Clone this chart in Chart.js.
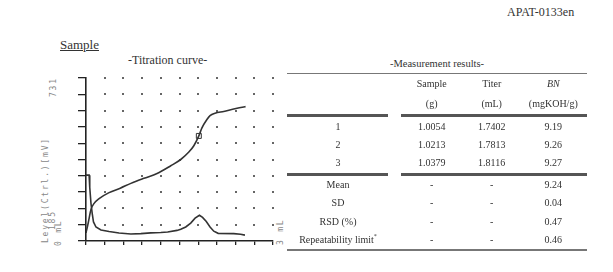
<!DOCTYPE html>
<html><head><meta charset="utf-8">
<script src="https://cdn.jsdelivr.net/npm/chart.js@4.4.0/dist/chart.umd.min.js"></script>
<style>
html,body{margin:0;padding:0;background:#fff;}
body{width:613px;height:272px;position:relative;overflow:hidden;font-family:"Liberation Serif","Times New Roman",serif;color:#333;}
.t{position:absolute;white-space:nowrap;}
.c{position:absolute;width:110px;text-align:center;font-size:10px;line-height:12px;white-space:nowrap;}
.rot{position:absolute;transform-origin:0 0;transform:rotate(-90deg);font-family:"DejaVu Sans Mono",monospace;font-size:8px;line-height:7px;letter-spacing:1.8px;color:#888;white-space:nowrap;}
.rule{position:absolute;background:#666;}
#wrap{position:absolute;left:0;top:0;width:290px;height:272px;}
</style></head><body>
<div class="t" style="left:507px;top:5px;font-size:12px;line-height:14px;">APAT-0133en</div>
<div class="t" style="left:60px;top:37px;font-size:13px;line-height:15px;text-decoration:underline;">Sample</div>
<div class="t" style="left:128px;top:53px;font-size:12px;line-height:14px;">-Titration curve-</div>

<div class="rot" style="left:42px;top:243px;">Level(Ctrl.)[mV]</div>
<div class="rot" style="left:49px;top:230px;">185</div>
<div class="rot" style="left:54.5px;top:246px;">0 mL</div>
<div class="rot" style="left:50px;top:97px;">731</div>
<div class="rot" style="left:277px;top:245px;">3 mL</div>

<div id="wrap"><canvas id="chart" width="290" height="272"></canvas></div>
<div id="table"></div>

<script>
// ---- Titration curve data (volume in mL, potential in mV) ----
const potVolume = [0.00,0.03,0.05,0.08,0.13,0.21,0.37,0.55,0.72,0.93,1.14,1.36,1.52,1.65,1.73,1.81,1.86,1.94,1.99,2.07,2.21,2.37,2.53,2.56];
const potMV     = [212,240,261,291,311,327,347,362,378,395,411,437,458,483,504,537,564,592,605,613,619,627,634,635];
// ---- Differential / level curve (relative units, 0-10 divisions) ----
const difVolume = [0.00,0.05,0.06,0.08,0.10,0.12,0.16,0.24,0.37,0.53,0.72,0.88,1.04,1.20,1.31,1.46,1.52,1.60,1.68,1.75,1.82,1.87,1.93,1.99,2.05,2.12,2.37,2.48,2.55];
const difLevel  = [4.04,4.04,3.30,2.30,1.68,1.17,0.86,0.68,0.58,0.49,0.43,0.45,0.50,0.52,0.55,0.65,0.72,0.86,1.10,1.40,1.58,1.45,1.20,0.86,0.60,0.47,0.45,0.41,0.36];
// ---- End point marker ----
const endPointVolume = [1.81];
const endPointMV = [537];
// ---- Axis ranges ----
const xRange = [0, 3];
const yRange = [185, 731];
const divisions = 10;

// ---- Measurement results ----
const rowLabels = ['1','2','3'];
const sampleMass = ['1.0054','1.0213','1.0379'];
const titerML = ['1.7402','1.7813','1.8116'];
const bnValues = ['9.19','9.26','9.27'];
const statLabels = ['Mean','SD','RSD (%)','Repeatability limit<sup style="font-size:6px;vertical-align:5px;line-height:0">*</sup>'];
const statBN = ['9.24','0.04','0.47','0.46'];

function evenTicks(scale, range){
  const t=[];
  for(let i=0;i<=divisions;i++) t.push({value: range[0] + (range[1]-range[0])*i/divisions});
  scale.ticks = t;
}

const dotPlugin = {
  id:'dots',
  beforeDatasetsDraw(chart){
    const {ctx, scales:{x,y}} = chart;
    ctx.save();
    ctx.fillStyle = '#666';
    for(let i=1;i<x.ticks.length;i++){
      for(let j=1;j<y.ticks.length;j++){
        const px = Math.round(x.getPixelForValue(x.ticks[i].value));
        const py = Math.round(y.getPixelForValue(y.ticks[j].value));
        ctx.fillRect(px-1, py-1, 2, 2);
      }
    }
    ctx.restore();
  }
};

new Chart(document.getElementById('chart'), {
  type:'line',
  data:{datasets:[
    {data: potVolume.map((v,i)=>({x:v,y:potMV[i]})), yAxisID:'y', borderColor:'#333', borderWidth:1.6, pointRadius:0, cubicInterpolationMode:'monotone'},
    {data: difVolume.map((v,i)=>({x:v,y:difLevel[i]})), yAxisID:'y2', borderColor:'#333', borderWidth:1.6, pointRadius:0, tension:0},
    {data: endPointVolume.map((v,i)=>({x:v,y:endPointMV[i]})), yAxisID:'y', showLine:false, pointStyle:'rect', pointRadius:3.5, borderColor:'#333', borderWidth:1, backgroundColor:'rgba(255,255,255,0)'}
  ]},
  options:{
    responsive:false, animation:false, devicePixelRatio:1,
    layout:{padding:{left:78, top:78, right:17, bottom:27}},
    plugins:{legend:{display:false}, tooltip:{enabled:false}},
    scales:{
      x:{type:'linear', min:xRange[0], max:xRange[1], afterBuildTicks:s=>evenTicks(s,xRange),
         grid:{drawOnChartArea:false, drawTicks:true, tickLength:4, color:'#222', lineWidth:1.3},
         border:{display:true, color:'#222', width:1.6}, ticks:{display:false}},
      y:{type:'linear', min:yRange[0], max:yRange[1], afterBuildTicks:s=>evenTicks(s,yRange),
         grid:{drawOnChartArea:false, drawTicks:true, tickLength:8, color:'#222', lineWidth:1.3},
         border:{display:true, color:'#222', width:1.6}, ticks:{display:false}},
      y2:{type:'linear', display:false, min:0, max:10}
    }
  },
  plugins:[dotPlugin]
});

// ---- Build measurement table ----
const tbl = document.getElementById('table');
function cell(html, cx, cy, extra){
  const d = document.createElement('div');
  d.className='c';
  d.style.left=(cx-55)+'px';
  d.style.top=(cy-6)+'px';
  if(extra) d.style.cssText += extra;
  d.innerHTML = html;
  tbl.appendChild(d);
}
function rule(x1,x2,y,h,col){
  const d=document.createElement('div');
  d.className='rule';
  d.style.left=x1+'px'; d.style.width=(x2-x1)+'px';
  d.style.top=(y-h/2)+'px'; d.style.height=h+'px';
  if(col) d.style.background=col;
  tbl.appendChild(d);
}
const colX = [338, 431.7, 491.7, 553.3];
cell('-Measurement results-', 437, 64, 'font-size:10.5px;');
rule(287,587,73.5,1.5,'#777');
cell('Sample', colX[1], 83.5);
cell('Titer', colX[2], 83.5);
cell('<i>BN</i>', colX[3], 83.5);
cell('(g)', colX[1], 103.5);
cell('(mL)', colX[2], 103.5);
cell('(mgKOH/g)', colX[3], 103.5);
rule(287,388,115,3,'#555'); rule(401,587,115,3,'#555');
const rowY = [126.7,145,163.3];
rowLabels.forEach((r,i)=>{
  cell(r, colX[0], rowY[i]);
  cell(sampleMass[i], colX[1], rowY[i]);
  cell(titerML[i], colX[2], rowY[i]);
  cell(bnValues[i], colX[3], rowY[i]);
});
rule(287,388,174,3,'#555'); rule(401,587,174,3,'#555');
const statY = [185,203.3,221.7,240];
statLabels.forEach((s,i)=>{
  cell(s, colX[0], statY[i]);
  cell('-', colX[1], statY[i]);
  cell('-', colX[2], statY[i]);
  cell(statBN[i], colX[3], statY[i]);
});
rule(287,587,250,2,'#777');
</script>
</body></html>
